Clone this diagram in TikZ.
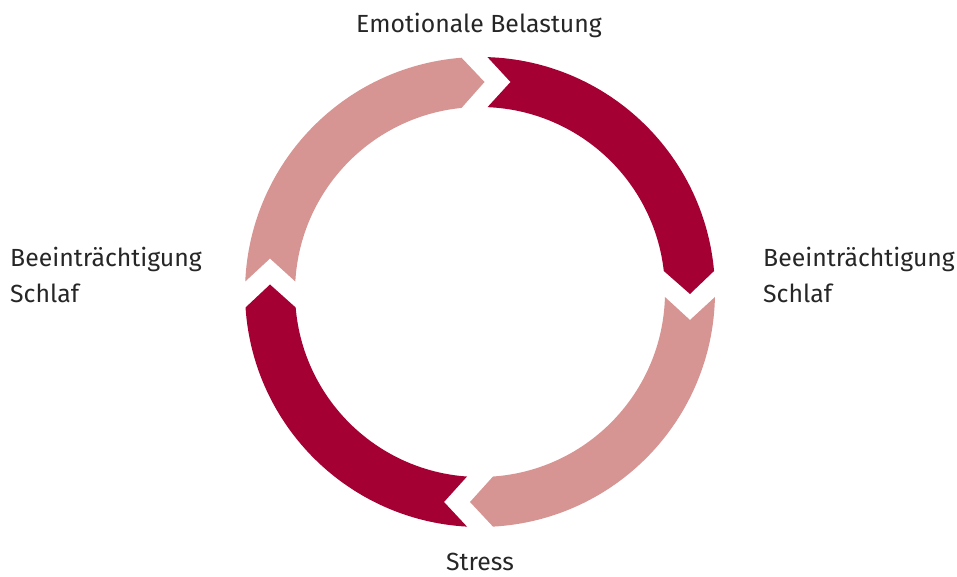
\documentclass[tikz,border=0pt]{standalone}
\usepackage{fontspec}
\setmainfont{Fira Sans}
\definecolor{ringdark}{HTML}{A50034}
\definecolor{ringlight}{HTML}{D69593}
\definecolor{labeltext}{HTML}{262626}
% #1 angle of gap A, #2 offset of gap A, #3 angle of gap B, #4 offset of gap B, #5 colour
\newcommand{\ringseg}[5]{%
  \pgfmathsetmacro{\rsBo}{#2+13}%
  \pgfmathsetmacro{\rsNo}{#2+36}%
  \pgfmathsetmacro{\rsSo}{#4-13}%
  \pgfmathsetmacro{\rsTo}{#4+10}%
  \pgfmathsetmacro{\rsAo}{#1-asin(\rsBo/235)}%
  \pgfmathsetmacro{\rsAi}{#1-asin(\rsBo/185)}%
  \pgfmathsetmacro{\rsNa}{#1-atan(\rsNo/210)}%
  \pgfmathsetmacro{\rsNr}{100*sqrt(4.41+(\rsNo/100)^2)}%
  \pgfmathsetmacro{\rsEo}{#3-asin(\rsSo/235)}%
  \pgfmathsetmacro{\rsEi}{#3-asin(\rsSo/185)}%
  \pgfmathsetmacro{\rsTa}{#3-atan(\rsTo/210)}%
  \pgfmathsetmacro{\rsTr}{100*sqrt(4.41+(\rsTo/100)^2)}%
  \fill[#5] (\rsAo:235) arc[start angle=\rsAo, end angle=\rsEo, radius=235]
    -- (\rsTa:\rsTr) -- (\rsEi:185)
    arc[start angle=\rsEi, end angle=\rsAi, radius=185]
    -- (\rsNa:\rsNr) -- cycle;
}
\begin{document}
\begin{tikzpicture}[x=1pt,y=1pt,
  lbl/.style={text=labeltext, font=\fontsize{24.8}{29}\selectfont, inner sep=0pt}]
\useasboundingbox (0,0) rectangle (957,577);
\begin{scope}[shift={(480,285)}]
  \ringseg{90}{-5.5}{0}{-8}{ringdark}
  \ringseg{0}{-8}{-90}{0}{ringlight}
  \ringseg{-90}{0}{-180}{-2.5}{ringdark}
  \ringseg{180}{-2.5}{90}{-5.5}{ringlight}
\end{scope}
\node[lbl, anchor=base] (emo) at (479,544) {Emotionale Belastung};
\node[lbl, anchor=base] (stress) at (480,6) {Stress};
\node[lbl, anchor=base west] (lefta) at (10,310) {Beeinträchtigung};
\node[lbl, anchor=base west] (leftb) at (10,274) {Schlaf};
\node[lbl, anchor=base west] (righta) at (763,310) {Beeinträchtigung};
\node[lbl, anchor=base west] (rightb) at (763,274) {Schlaf};
\end{tikzpicture}
\end{document}
